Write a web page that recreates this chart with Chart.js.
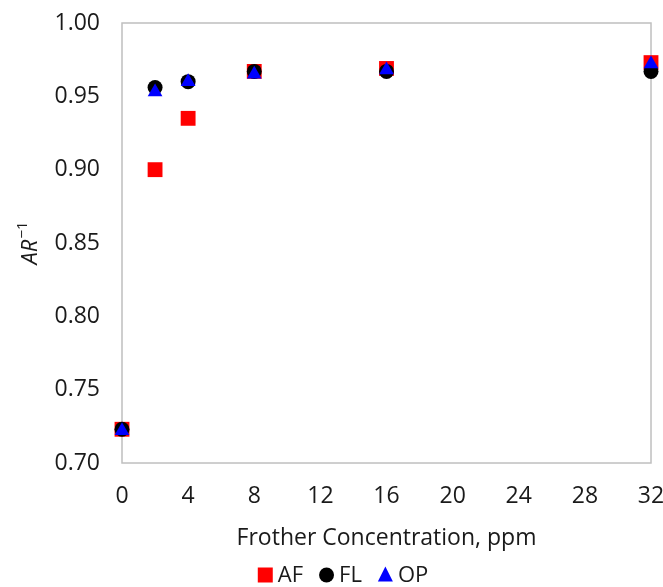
<!DOCTYPE html>
<html>
<head>
<meta charset="utf-8">
<script src="https://cdn.jsdelivr.net/npm/chart.js@4"></script>
<style>
  html, body { margin: 0; padding: 0; background: #fff; }
  #wrap { width: 663px; height: 587px; }
</style>
</head>
<body>
<div id="wrap"><canvas id="chart"></canvas></div>
<script>
    "use strict";

    // frother concentration, ppm
    const concentration = [0, 2, 4, 8, 16, 32];
    const afValues = [0.723, 0.900, 0.935, 0.967, 0.969, 0.973];
    const flValues = [0.723, 0.956, 0.960, 0.967, 0.967, 0.967];
    const opValues = [0.722, 0.953, 0.960, 0.965, 0.968, 0.972];
    const seriesNames = ["AF", "FL", "OP"];
    const xTicks = [0, 4, 8, 12, 16, 20, 24, 28, 32];
    const yTicks = [0.70, 0.75, 0.80, 0.85, 0.90, 0.95, 1.00];

    const FONT = "'Open Sans', sans-serif";
    const TEXT = "#1a1a1a";
    const SIZE = 23;

    const toPoints = (vals) => concentration.map((x, i) => ({ x: x, y: vals[i] }));

    // grey frame around the plot area
    const frame = {
        id: 'frame',
        beforeDatasetsDraw(chart) {
            const a = chart.chartArea, ctx = chart.ctx;
            ctx.save();
            ctx.strokeStyle = '#bfbfbf';
            ctx.lineWidth = 1.5;
            ctx.strokeRect(a.left, a.top, a.right - a.left, a.bottom - a.top);
            ctx.restore();
        }
    };

    // y title: italic AR with an upright superscript -1
    const yTitle = {
        id: 'yTitle',
        afterDraw(chart) {
            const a = chart.chartArea, ctx = chart.ctx;
            const main = 'AR', sup = '\u22121';
            ctx.save();
            ctx.fillStyle = TEXT;
            ctx.textBaseline = 'alphabetic';
            ctx.font = `italic 22px ${FONT}`;
            const w1 = ctx.measureText(main).width;
            ctx.font = `15px ${FONT}`;
            const w2 = ctx.measureText(sup).width;
            ctx.translate(37, (a.top + a.bottom) / 2);
            ctx.rotate(-Math.PI / 2);
            const x0 = -(w1 + w2 + 1) / 2;
            ctx.font = `italic 22px ${FONT}`;
            ctx.fillText(main, x0, 0);
            ctx.font = `15px ${FONT}`;
            ctx.fillText(sup, x0 + w1 + 1, -10);
            ctx.restore();
        }
    };

    // legend row under the plot: marker, short gap, label
    const markerLegend = {
        id: 'markerLegend',
        afterDraw(chart) {
            const ctx = chart.ctx;
            const items = chart.data.datasets;
            const box = 15, gap = 5, between = 16, cy = 575, cx = 343;
            ctx.save();
            ctx.font = `22px ${FONT}`;
            const widths = items.map(d => box + gap + ctx.measureText(d.label).width);
            const total = widths.reduce((s, w) => s + w, 0) + between * (items.length - 1);
            let x = cx - total / 2;
            items.forEach((d, i) => {
                const mx = x + box / 2;
                ctx.fillStyle = d.backgroundColor;
                ctx.beginPath();
                if (d.pointStyle === 'rect') {
                    ctx.rect(x, cy - box / 2, box, box);
                } else if (d.pointStyle === 'circle') {
                    ctx.arc(mx, cy, box / 2, 0, Math.PI * 2);
                } else {
                    ctx.moveTo(mx, cy - box / 2 - 1);
                    ctx.lineTo(x + box, cy + box / 2 - 1);
                    ctx.lineTo(x, cy + box / 2 - 1);
                    ctx.closePath();
                }
                ctx.fill();
                ctx.fillStyle = TEXT;
                ctx.textBaseline = 'middle';
                ctx.textAlign = 'left';
                ctx.fillText(d.label, x + box + gap, cy + 1);
                x += widths[i] + between;
            });
            ctx.restore();
        }
    };

    new Chart(document.getElementById('chart'), {
        type: 'scatter',
        data: {
            datasets: [
                { label: seriesNames[0], data: toPoints(afValues), pointStyle: 'rect', pointRadius: 10.5,
                  backgroundColor: '#ff0000', borderColor: '#ff0000', borderWidth: 0, order: 2, clip: false },
                { label: seriesNames[1], data: toPoints(flValues), pointStyle: 'circle', pointRadius: 7.5,
                  backgroundColor: '#000000', borderColor: '#000000', borderWidth: 0, order: 1, clip: false },
                { label: seriesNames[2], data: toPoints(opValues), pointStyle: 'triangle', pointRadius: 8.5,
                  backgroundColor: '#0000ff', borderColor: '#0000ff', borderWidth: 0, order: 0, clip: false }
            ]
        },
        options: {
            responsive: true,
            maintainAspectRatio: false,
            animation: false,
            layout: { padding: { left: 0, right: 12, top: 23, bottom: 51 } },
            plugins: {
                tooltip: { enabled: false },
                legend: { display: false }
            },
            scales: {
                x: {
                    type: 'linear',
                    min: 0, max: 32,
                    afterBuildTicks: (s) => { s.ticks = xTicks.map(v => ({ value: v })); },
                    afterFit: (s) => { s.height = 73; s.paddingLeft = 0; s.paddingRight = 0; },
                    grid: { display: false, drawTicks: false },
                    border: { display: false },
                    ticks: { padding: 20, color: TEXT, font: { family: FONT, size: SIZE } },
                    title: {
                        display: true,
                        text: 'Frother Concentration, ppm',
                        color: TEXT,
                        font: { family: FONT, size: SIZE },
                        padding: { top: 0, bottom: -15.8 }
                    }
                },
                y: {
                    min: 0.70, max: 1.00,
                    afterBuildTicks: (s) => { s.ticks = yTicks.map(v => ({ value: v })); },
                    afterFit: (s) => { s.width = 122; s.paddingTop = 0; s.paddingBottom = 0; },
                    grid: { display: false, drawTicks: false },
                    border: { display: false },
                    ticks: {
                        padding: 22, color: TEXT, font: { family: FONT, size: SIZE },
                        callback: (v) => Number(v).toFixed(2)
                    },
                    title: { display: false }
                }
            }
        },
        plugins: [frame, yTitle, markerLegend]
    });
</script>
</body>
</html>
